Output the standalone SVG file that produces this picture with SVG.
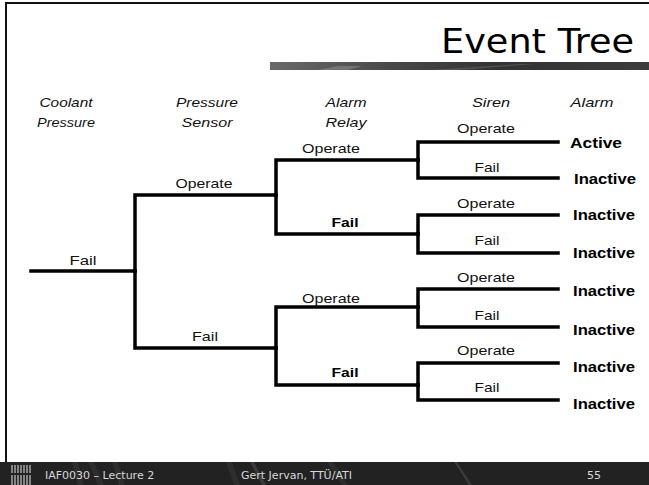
<svg xmlns="http://www.w3.org/2000/svg" width="649" height="485" viewBox="0 0 649 485">
  <defs>
    <linearGradient id="bar" x1="0" y1="0" x2="1" y2="0">
      <stop offset="0" stop-color="#6a6a6a"/>
      <stop offset="0.3" stop-color="#4a4a4a"/>
      <stop offset="0.6" stop-color="#333"/>
      <stop offset="1" stop-color="#3c3c3c"/>
    </linearGradient>
    <style>
      .hdr { font-family: "Liberation Sans", Arial, sans-serif; font-style: italic; font-size: 13px; fill: #111; text-anchor: middle; }
      .lbl { font-family: "Liberation Sans", Arial, sans-serif; font-size: 13px; fill: #111; text-anchor: middle; }
      .bl { font-family: "Liberation Sans", Arial, sans-serif; font-size: 13px; font-weight: bold; fill: #000; text-anchor: middle; }
      .out { font-family: "Liberation Sans", Arial, sans-serif; font-size: 14px; font-weight: bold; fill: #000; }
      .ln { stroke: #000; stroke-width: 3.5; fill: none; stroke-linecap: square; }
      .ft { font-family: "DejaVu Sans", sans-serif; font-size: 11px; fill: #d8d8d8; }
    </style>
  </defs>
  <rect x="0" y="0" width="649" height="485" fill="#fff"/>
  <!-- frame -->
  <line x1="5.5" y1="3" x2="649" y2="3" stroke="#111" stroke-width="2"/>
  <line x1="6" y1="2" x2="6" y2="462" stroke="#111" stroke-width="2"/>
  <!-- title -->
  <text x="634" y="53" font-family="DejaVu Sans, sans-serif" font-size="34" fill="#000" text-anchor="end" textLength="193" lengthAdjust="spacingAndGlyphs">Event Tree</text>
  <rect x="270" y="62" width="379" height="8" fill="url(#bar)"/>
  <polygon points="318,70 338,66 362,66 348,70" fill="#888" opacity="0.6"/>
  <polygon points="430,70 520,64 535,64 455,70" fill="#666" opacity="0.6"/>

  <!-- column headers -->
  <g id="headers">
    <text class="hdr" x="66" y="107" textLength="53" lengthAdjust="spacingAndGlyphs">Coolant</text>
    <text class="hdr" x="66" y="127" textLength="58" lengthAdjust="spacingAndGlyphs">Pressure</text>
    <text class="hdr" x="207" y="107" textLength="62" lengthAdjust="spacingAndGlyphs">Pressure</text>
    <text class="hdr" x="207" y="127" textLength="51" lengthAdjust="spacingAndGlyphs">Sensor</text>
    <text class="hdr" x="346" y="107" textLength="41" lengthAdjust="spacingAndGlyphs">Alarm</text>
    <text class="hdr" x="346" y="127" textLength="41" lengthAdjust="spacingAndGlyphs">Relay</text>
    <text class="hdr" x="491" y="107" textLength="38" lengthAdjust="spacingAndGlyphs">Siren</text>
    <text class="hdr" x="592" y="107" textLength="43" lengthAdjust="spacingAndGlyphs">Alarm</text>
  </g>

  <!-- connectors -->
  <g id="connectors">
    <path class="ln" d="M31 271 H135"/>
    <path class="ln" d="M135 271 V195 H276"/>
    <path class="ln" d="M135 271 V348 H276"/>
    <path class="ln" d="M276 195 V160 H418"/>
    <path class="ln" d="M276 195 V234 H418"/>
    <path class="ln" d="M276 348 V307 H418"/>
    <path class="ln" d="M276 348 V385 H418"/>
    <path class="ln" d="M418 160 V142 H558"/>
    <path class="ln" d="M418 160 V178 H558"/>
    <path class="ln" d="M418 234 V215 H558"/>
    <path class="ln" d="M418 234 V253 H558"/>
    <path class="ln" d="M418 307 V289 H558"/>
    <path class="ln" d="M418 307 V327 H558"/>
    <path class="ln" d="M418 385 V363 H558"/>
    <path class="ln" d="M418 385 V400 H558"/>
  </g>

  <!-- branch labels -->
  <g id="root"><text class="lbl" x="83" y="265" textLength="27" lengthAdjust="spacingAndGlyphs">Fail</text></g>
  <g id="sensor-operate"><text class="lbl" x="204" y="188" textLength="57" lengthAdjust="spacingAndGlyphs">Operate</text></g>
  <g id="sensor-fail"><text class="lbl" x="205" y="341" textLength="26" lengthAdjust="spacingAndGlyphs">Fail</text></g>
  <g id="relay-operate-1"><text class="lbl" x="331" y="153" textLength="58" lengthAdjust="spacingAndGlyphs">Operate</text></g>
  <g id="relay-fail-1"><text class="bl" x="345" y="227" textLength="27" lengthAdjust="spacingAndGlyphs">Fail</text></g>
  <g id="relay-operate-2"><text class="lbl" x="331" y="303" textLength="58" lengthAdjust="spacingAndGlyphs">Operate</text></g>
  <g id="relay-fail-2"><text class="bl" x="345" y="377" textLength="27" lengthAdjust="spacingAndGlyphs">Fail</text></g>

  <g id="siren-1">
    <text class="lbl" x="486" y="133" textLength="58" lengthAdjust="spacingAndGlyphs">Operate</text>
    <text class="lbl" x="487" y="172" textLength="25" lengthAdjust="spacingAndGlyphs">Fail</text>
  </g>
  <g id="siren-2">
    <text class="lbl" x="486" y="208" textLength="58" lengthAdjust="spacingAndGlyphs">Operate</text>
    <text class="lbl" x="487" y="245" textLength="25" lengthAdjust="spacingAndGlyphs">Fail</text>
  </g>
  <g id="siren-3">
    <text class="lbl" x="486" y="282" textLength="58" lengthAdjust="spacingAndGlyphs">Operate</text>
    <text class="lbl" x="487" y="320" textLength="25" lengthAdjust="spacingAndGlyphs">Fail</text>
  </g>
  <g id="siren-4">
    <text class="lbl" x="486" y="355" textLength="58" lengthAdjust="spacingAndGlyphs">Operate</text>
    <text class="lbl" x="487" y="392" textLength="25" lengthAdjust="spacingAndGlyphs">Fail</text>
  </g>

  <!-- outcomes -->
  <g id="outcomes">
    <text class="out" x="570" y="148" textLength="52" lengthAdjust="spacingAndGlyphs">Active</text>
    <text class="out" x="574" y="184" textLength="62" lengthAdjust="spacingAndGlyphs">Inactive</text>
    <text class="out" x="573" y="220" textLength="62" lengthAdjust="spacingAndGlyphs">Inactive</text>
    <text class="out" x="573" y="258" textLength="62" lengthAdjust="spacingAndGlyphs">Inactive</text>
    <text class="out" x="573" y="296" textLength="62" lengthAdjust="spacingAndGlyphs">Inactive</text>
    <text class="out" x="573" y="335" textLength="62" lengthAdjust="spacingAndGlyphs">Inactive</text>
    <text class="out" x="573" y="372" textLength="62" lengthAdjust="spacingAndGlyphs">Inactive</text>
    <text class="out" x="573" y="409" textLength="62" lengthAdjust="spacingAndGlyphs">Inactive</text>
  </g>

  <!-- footer -->
  <rect x="0" y="462" width="649" height="23" fill="#222"/>
  <polygon points="72,462 78,462 84,485 78,485" fill="#2e2e2e"/>
  <polygon points="88,462 94,462 104,485 98,485" fill="#2e2e2e"/>
  <polygon points="112,462 118,462 125,485 119,485" fill="#2e2e2e"/>
  <polygon points="226,462 232,462 240,485 234,485" fill="#2d2d2d"/>
  <polygon points="250,462 254,462 266,485 262,485" fill="#3a3a3a"/>
  <polygon points="327,462 333,462 348,485 342,485" fill="#2d2d2d"/>
  <polygon points="454,462 457,462 472,485 469,485" fill="#3a3a3a"/>
  <path d="M12 465 V485 M15 465 V485 M18 465 V485 M21 465 V485 M24 465 V485 M27 465 V485 M30 465 V485" stroke="#bbb" stroke-width="1.3"/>
  <path d="M11 474 H32" stroke="#222" stroke-width="2"/>
  <text class="ft" x="45" y="479">IAF0030 – Lecture 2</text>
  <text class="ft" x="241" y="479">Gert Jervan, TTÜ/ATI</text>
  <text class="ft" x="587" y="479">55</text>
</svg>
